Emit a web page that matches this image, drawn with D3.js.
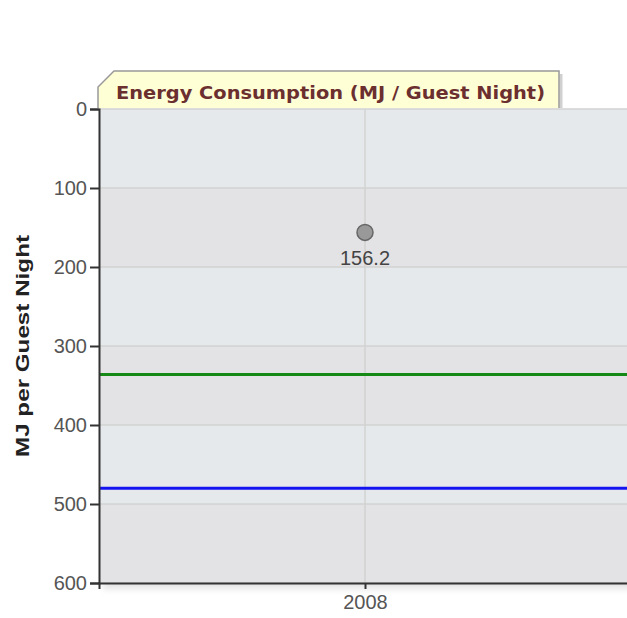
<!DOCTYPE html>
<html>
<head>
<meta charset="utf-8">
<script src="https://cdn.jsdelivr.net/npm/d3@7"></script>
<style>
  body { margin: 0; background: #fff; }
  svg { display: block; }
</style>
</head>
<body>
<svg id="chart" width="627" height="618"></svg>
<script>
// chart data
var years = ["2008"];
var energyValues = [156.2];
var targetGreen = [336];
var targetBlue = [480];
var yTicks = [0, 100, 200, 300, 400, 500, 600];

var svg = d3.select("#chart");
var plotL = 99, plotT = 109, plotB = 583, plotR = 631;
var tickFont = "Arial, 'Liberation Sans', sans-serif";

var x = d3.scalePoint().domain(years).range([plotL, plotR]).padding(0.5);
var y = d3.scaleLinear().domain([0, 600]).range([plotT, plotB]);

// soft shadow under plot
var defs = svg.append("defs");
defs.append("filter").attr("id", "blur").append("feGaussianBlur").attr("stdDeviation", 3);
svg.append("rect")
    .attr("x", plotL + 4).attr("y", plotT + 4)
    .attr("width", plotR - plotL).attr("height", plotB - plotT + 2)
    .attr("fill", "#e4e4e4").attr("filter", "url(#blur)");

// alternating bands
var bands = d3.pairs(yTicks);
svg.selectAll(".band").data(bands).enter().append("rect")
    .attr("x", plotL).attr("width", plotR - plotL)
    .attr("y", function (d) { return y(d[0]); })
    .attr("height", function (d) { return y(d[1]) - y(d[0]); })
    .attr("fill", function (d, i) { return i % 2 == 0 ? "#e6e9ec" : "#e3e3e5"; });

// grid lines
svg.selectAll(".hgrid").data(yTicks).enter().append("line")
    .attr("x1", plotL).attr("x2", plotR)
    .attr("y1", function (d) { return y(d); }).attr("y2", function (d) { return y(d); })
    .attr("stroke", "#d2d2d2").attr("stroke-width", 1.5);
svg.selectAll(".vgrid").data(years).enter().append("line")
    .attr("x1", function (d) { return x(d); }).attr("x2", function (d) { return x(d); })
    .attr("y1", plotT).attr("y2", plotB)
    .attr("stroke", "#d2d2d2").attr("stroke-width", 1.5);

// reference lines
svg.append("line")
    .attr("x1", plotL).attr("x2", plotR)
    .attr("y1", y(targetGreen[0])).attr("y2", y(targetGreen[0]))
    .attr("stroke", "#148a14").attr("stroke-width", 3);
svg.append("line")
    .attr("x1", plotL).attr("x2", plotR)
    .attr("y1", y(targetBlue[0])).attr("y2", y(targetBlue[0]))
    .attr("stroke", "#1414f0").attr("stroke-width", 3);

// axes
var yAxis = d3.axisLeft(y).tickValues(yTicks).tickSize(9).tickPadding(3);
var gy = svg.append("g").attr("transform", "translate(" + plotL + ",0)").call(yAxis);
gy.select(".domain").attr("stroke", "#333").attr("stroke-width", 2);
gy.selectAll(".tick line").attr("stroke", "#333").attr("stroke-width", 2);
gy.selectAll(".tick text")
    .attr("font-family", tickFont)
    .attr("font-size", 20).attr("fill", "#555");

var xAxis = d3.axisBottom(x).tickSize(6).tickPadding(6);
var gx = svg.append("g").attr("transform", "translate(0," + plotB + ")").call(xAxis);
gx.select(".domain").attr("stroke", "#333").attr("stroke-width", 2);
gx.selectAll(".tick line").attr("stroke", "#333").attr("stroke-width", 2);
gx.selectAll(".tick text")
    .attr("font-family", tickFont)
    .attr("font-size", 20).attr("fill", "#555");

// axis title
svg.append("text")
    .attr("transform", "translate(29,346) rotate(-90)")
    .attr("text-anchor", "middle")
    .attr("font-family", tickFont)
    .attr("font-weight", "bold").attr("font-size", 19).attr("fill", "#222")
    .attr("textLength", 222).attr("lengthAdjust", "spacingAndGlyphs")
    .text("MJ per Guest Night");

// data points
svg.selectAll(".pt").data(energyValues).enter().append("circle")
    .attr("cx", function (d, i) { return x(years[i]); })
    .attr("cy", function (d) { return y(d); })
    .attr("r", 8)
    .attr("fill", "#999").attr("stroke", "#666").attr("stroke-width", 1.5);
svg.selectAll(".lbl").data(energyValues).enter().append("text")
    .attr("x", function (d, i) { return x(years[i]); })
    .attr("y", function (d) { return y(d) + 33; })
    .attr("text-anchor", "middle")
    .attr("font-family", tickFont)
    .attr("font-size", 20).attr("fill", "#444")
    .text(function (d) { return d.toFixed(1); });

// title tab
var tabL = 98, tabR = 559, tabT = 71, tabB = plotT - 1;
svg.append("path")
    .attr("d", "M" + (tabR + 2) + "," + (tabT + 3) + "L" + (tabR + 2) + "," + tabB)
    .attr("stroke", "#d0d0d0").attr("stroke-width", 3).attr("fill", "none");
svg.append("path")
    .attr("d", "M" + tabL + "," + tabB + "L" + tabL + "," + (tabT + 16) +
        "L" + (tabL + 16) + "," + tabT + "L" + tabR + "," + tabT + "L" + tabR + "," + tabB)
    .attr("fill", "#ffffd6").attr("stroke", "#999").attr("stroke-width", 1.5);
svg.append("text")
    .attr("x", 116).attr("y", 99)
    .attr("font-family", "'DejaVu Sans', Verdana, sans-serif")
    .attr("font-weight", "bold").attr("font-size", 18).attr("fill", "#6b2f2f")
    .attr("textLength", 429).attr("lengthAdjust", "spacingAndGlyphs")
    .text("Energy Consumption (MJ / Guest Night)");
</script>
</body>
</html>
